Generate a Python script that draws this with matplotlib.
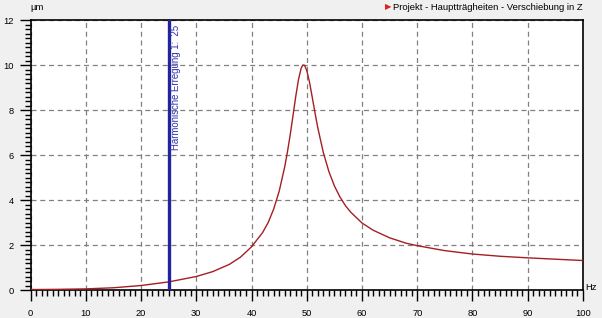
"""Harmonic response plot: displacement in Z over excitation frequency."""
import matplotlib
matplotlib.use("Agg")
import matplotlib.pyplot as plt
from matplotlib.ticker import MultipleLocator

# Values
freq_hz = [0, 5, 10, 15, 20, 25, 30, 33, 36, 38, 40, 42, 43, 44, 45, 46, 46.5,
           47, 47.5, 48, 48.5, 49, 49.3, 49.6, 50, 50.5, 51, 51.5, 52, 53, 54,
           55, 56, 57, 58, 60, 62, 65, 68, 70, 75, 80, 85, 90, 95, 100]
displacement_um = [0.02, 0.03, 0.05, 0.10, 0.20, 0.36, 0.60, 0.82, 1.14, 1.46,
                   1.92, 2.55, 2.99, 3.59, 4.38, 5.46, 6.13, 6.89, 7.73, 8.59,
                   9.35, 9.87, 10.0, 9.99, 9.76, 9.24, 8.56, 7.87, 7.21, 6.11,
                   5.27, 4.63, 4.14, 3.75, 3.45, 2.98, 2.66, 2.32, 2.08, 1.97,
                   1.75, 1.60, 1.50, 1.43, 1.37, 1.31]
excitation_hz = 25
excitation_label = "Harmonische Erregung 1:  25"
legend_label = "Projekt - Hauptträgheiten - Verschiebung in Z"

plt.rcParams["font.family"] = ["Liberation Sans", "DejaVu Sans"]

fig = plt.figure(figsize=(6.02, 3.18), dpi=100, facecolor="#f0f0f0")
ax = fig.add_axes([0.0507, 0.088, 0.9177, 0.849])
ax.set_facecolor("white")

# Curve
ax.plot(freq_hz, displacement_um, color="#a31f24", linewidth=1.0, zorder=3)

# Excitation marker
ax.axvline(excitation_hz, color="#23239a", linewidth=2.4, zorder=4)
ax.text(excitation_hz + 0.45, 11.8, excitation_label, rotation=90,
        ha="left", va="top", fontsize=6.9, color="#3030b0", zorder=5)

# Axes
ax.set_xlim(0, 100)
ax.set_ylim(0, 12)
ax.xaxis.set_major_locator(MultipleLocator(10))
ax.xaxis.set_minor_locator(MultipleLocator(1))
ax.yaxis.set_major_locator(MultipleLocator(2))
ax.yaxis.set_minor_locator(MultipleLocator(0.2))
ax.tick_params(which="major", direction="out", length=8, width=1,
               labelsize=6.7)
ax.tick_params(axis="x", which="major", pad=6)
ax.tick_params(axis="y", which="major", pad=4)
ax.tick_params(which="minor", direction="out", length=4, width=1)
for spine in ax.spines.values():
    spine.set_color("black")
    spine.set_linewidth(1.2)

# Grid
ax.grid(True, which="major", color="#808080", linestyle=(0, (4, 3)),
        linewidth=0.9)
ax.set_axisbelow(True)

# Unit labels
fig.text(30 / 602, 1 - 7 / 318, "µm", fontsize=6.8, ha="left", va="center")
fig.text(591 / 602, 1 - 287 / 318, "Hz", fontsize=6.8, ha="center",
         va="center")

# Legend entry, top right
fig.text(388 / 602, 1 - 7 / 318, "\u25B6", fontsize=6, color="#e02020",
         ha="center", va="center", family="DejaVu Sans")
fig.text(583 / 602, 1 - 7 / 318, legend_label, fontsize=6.8,
         ha="right", va="center")

fig.savefig("out.png", dpi=100, facecolor=fig.get_facecolor())
